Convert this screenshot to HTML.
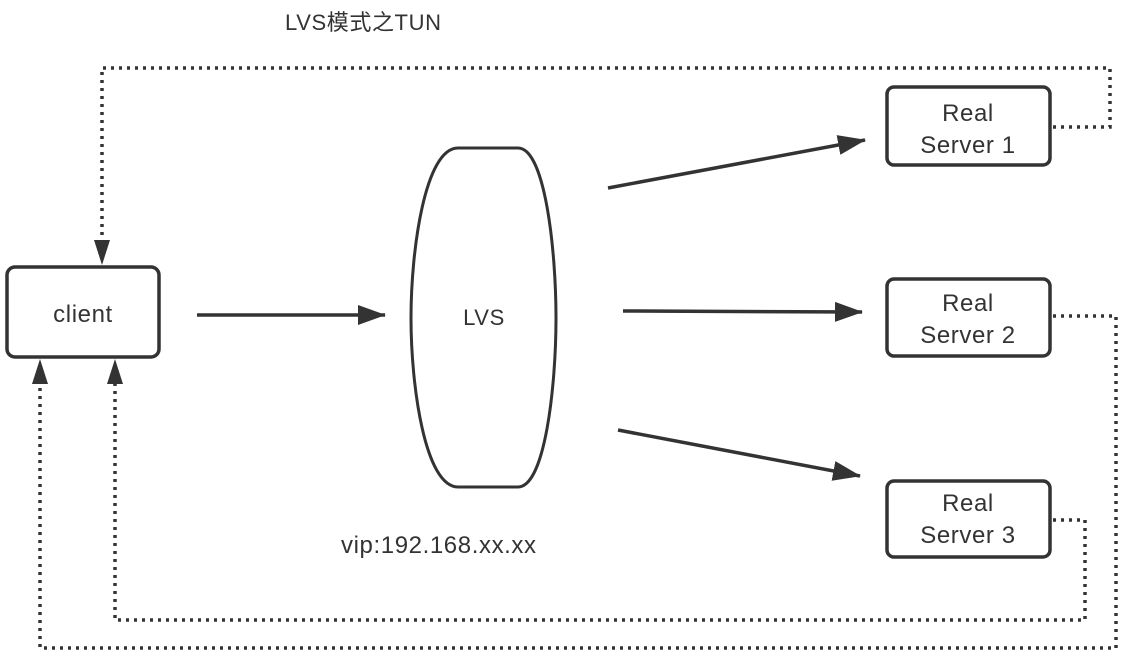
<!DOCTYPE html>
<html><head><meta charset="utf-8"><style>
html,body{margin:0;padding:0;background:#fff;}
svg{display:block;}
text{font-family:"Liberation Sans","Noto Sans CJK SC",sans-serif;fill:#333;letter-spacing:0.6px;}
</style></head><body>
<svg width="1132" height="662" viewBox="0 0 1132 662" xmlns="http://www.w3.org/2000/svg">
<defs>
<marker id="b" markerWidth="28" markerHeight="20" refX="27" refY="10" orient="auto" markerUnits="userSpaceOnUse"><path d="M0,0 L28,10 L0,20 Z" fill="#333"/></marker>
</defs>
<text x="285" y="30" font-size="22">LVS模式之TUN</text>
<g fill="none" stroke="#333" stroke-width="3.5">
<rect x="7" y="267" width="152" height="90" rx="8"/>
<rect x="887" y="87" width="163" height="78" rx="7"/>
<rect x="887" y="279" width="163" height="77" rx="7"/>
<rect x="887" y="481" width="163" height="76" rx="7"/>
<path d="M458,148 L518,148 C545,148 556,250 556,318 C556,386 545,487 518,487 L458,487 C425,487 411,386 411,318 C411,250 425,148 458,148 Z" stroke-width="3"/>
</g>
<g stroke="#333" stroke-width="3.5" fill="none">
<line x1="197" y1="315" x2="385" y2="315" marker-end="url(#b)"/>
<line x1="608" y1="188" x2="865" y2="140" marker-end="url(#b)"/>
<line x1="623" y1="311" x2="862" y2="312" marker-end="url(#b)"/>
<line x1="618" y1="430" x2="860" y2="476" marker-end="url(#b)"/>
</g>
<g stroke="#333" stroke-width="3.5" fill="none" stroke-dasharray="3,5">
<path d="M1053,127 L1110,127 L1110,68 L102,68 L102,240"/>
<path d="M1053,316 L1116,316 L1116,648 L40,648 L40,384"/>
<path d="M1053,520 L1085,520 L1085,620 L115,620 L115,384"/>
</g>
<g fill="#333">
<path d="M94,240 L110,240 L102,265 Z"/>
<path d="M32,384 L48,384 L40,359 Z"/>
<path d="M107,384 L123,384 L115,359 Z"/>
</g>
<text x="83" y="322" font-size="24" text-anchor="middle">client</text>
<text x="484" y="325" font-size="22" text-anchor="middle">LVS</text>
<text x="968" y="121" font-size="24" text-anchor="middle">Real</text>
<text x="968" y="153" font-size="24" text-anchor="middle">Server 1</text>
<text x="968" y="311" font-size="24" text-anchor="middle">Real</text>
<text x="968" y="343" font-size="24" text-anchor="middle">Server 2</text>
<text x="968" y="511" font-size="24" text-anchor="middle">Real</text>
<text x="968" y="543" font-size="24" text-anchor="middle">Server 3</text>
<text x="341" y="553" font-size="24">vip:192.168.xx.xx</text>
</svg>
</body></html>
